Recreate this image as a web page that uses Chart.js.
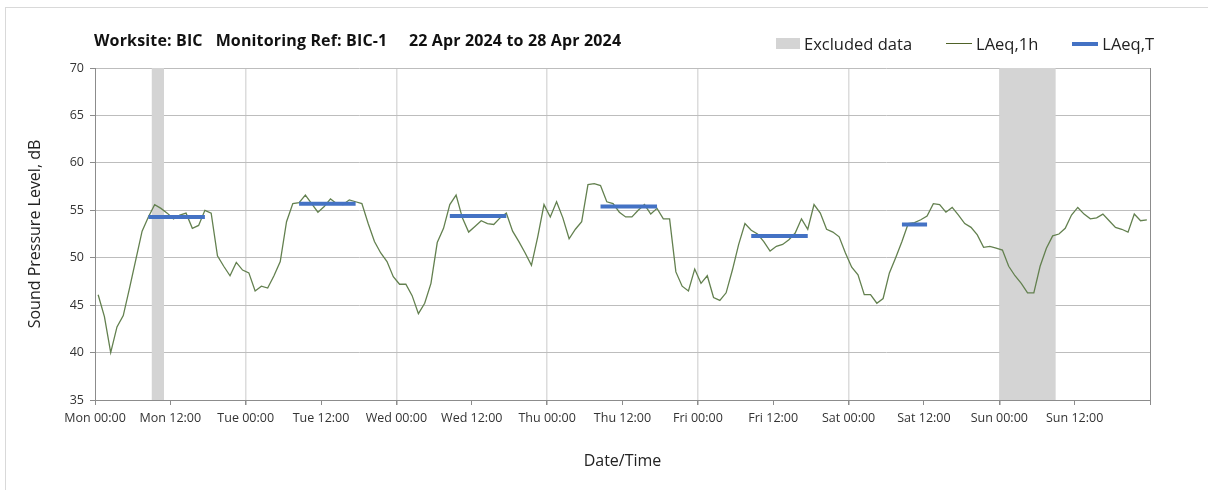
<!DOCTYPE html>
<html>
<head>
<meta charset="utf-8">
<script src="https://cdn.jsdelivr.net/npm/chart.js@4.4.1/dist/chart.umd.min.js"></script>
<style>
body { margin: 0; width: 1208px; height: 490px; overflow: hidden; background: #fff; font-family: 'Open Sans', sans-serif; }
#wrap { position: relative; width: 1208px; height: 490px; }
#frame { position: absolute; left: 5px; top: 7px; width: 1300px; height: 600px; border: 1px solid #d9d9d9; }
#title { position: absolute; left: 94px; top: 29px; font-weight: bold; font-size: 16px; letter-spacing: 0.15px; white-space: pre; color: #111; }
#legend { position: absolute; left: 776px; top: 32px; display: flex; align-items: center; font-size: 16.5px; color: #222; white-space: nowrap; }
#legend .item { display: flex; align-items: center; margin-right: 34px; }
#legend .item:last-child { margin-right: 0; }
#legend .sw { display: inline-block; width: 26px; margin-right: 4px; }
canvas { position: absolute; left: 0; top: 0; }
</style>
</head>
<body>
<div id="wrap">
  <div id="frame"></div>
  <canvas id="noiseChart" width="1208" height="490"></canvas>
  <div id="title">Worksite: BIC   Monitoring Ref: BIC-1     22 Apr 2024 to 28 Apr 2024</div>
  <div id="legend"></div>
</div>
<script>
//Hourly LAeq,1h values (dB), Mon 00:00 onwards
const laeq1h = [
  46.1, 43.8, 40.0, 42.7, 43.9, 46.8, 49.8, 52.8, 54.3, 55.6, 55.2, 54.7,
  54.1, 54.5, 54.7, 53.1, 53.4, 55.0, 54.7, 50.2, 49.1, 48.1, 49.5, 48.7,
  48.4, 46.5, 47.0, 46.8, 48.1, 49.6, 53.8, 55.7, 55.8, 56.6, 55.7, 54.8,
  55.4, 56.2, 55.7, 55.6, 56.1, 55.9, 55.7, 53.6, 51.7, 50.5, 49.6, 48.0,
  47.2, 47.2, 46.0, 44.1, 45.2, 47.3, 51.6, 53.1, 55.6, 56.6, 54.2, 52.7,
  53.3, 53.9, 53.6, 53.5, 54.2, 54.7, 52.8, 51.7, 50.5, 49.2, 52.2, 55.6,
  54.3, 55.9, 54.2, 52.0, 53.0, 53.8, 57.7, 57.8, 57.6, 55.9, 55.7, 54.8,
  54.3, 54.3, 55.0, 55.6, 54.6, 55.2, 54.1, 54.1, 48.5, 47.0, 46.5, 48.8,
  47.3, 48.1, 45.8, 45.5, 46.3, 48.7, 51.4, 53.6, 52.9, 52.5, 51.7, 50.7,
  51.2, 51.4, 51.9, 52.6, 54.1, 53.0, 55.6, 54.7, 53.0, 52.7, 52.2, 50.5,
  49.0, 48.2, 46.1, 46.1, 45.2, 45.7, 48.4, 50.0, 51.7, 53.6, 53.7, 54.0,
  54.4, 55.7, 55.6, 54.8, 55.3, 54.5, 53.6, 53.2, 52.4, 51.1, 51.2, 51.0,
  50.8, 49.1, 48.1, 47.3, 46.3, 46.3, 49.1, 51.0, 52.3, 52.5, 53.1, 54.5,
  55.3, 54.6, 54.1, 54.2, 54.6, 53.9, 53.2, 53.0, 52.7, 54.6, 53.9, 54.0
];

//LAeq,T daytime periods (hours from Mon 00:00)
const laeqTStart = [8.5, 32.5, 56.5, 80.5, 104.5, 128.5];
const laeqTEnd = [17.5, 41.5, 65.5, 89.5, 113.5, 132.5];
const laeqTValue = [54.3, 55.7, 54.4, 55.4, 52.3, 53.5];

//Excluded periods (hours from Mon 00:00)
const exclStart = [9, 144];
const exclEnd = [11, 153];

//Axis
const tickLabels = ['Mon 00:00', 'Mon 12:00', 'Tue 00:00', 'Tue 12:00', 'Wed 00:00', 'Wed 12:00',
  'Thu 00:00', 'Thu 12:00', 'Fri 00:00', 'Fri 12:00', 'Sat 00:00', 'Sat 12:00', 'Sun 00:00', 'Sun 12:00', ''];
const yMin = 35;
const yMax = 70;

//Build point lists
const hourlyPts = laeq1h.map((v, i) => ({ x: i + 0.5, y: v }));

const periodPts = [];
laeqTStart.forEach((s, i) => {
    periodPts.push({ x: s, y: laeqTValue[i] });
    periodPts.push({ x: laeqTEnd[i], y: laeqTValue[i] });
    periodPts.push({ x: laeqTEnd[i] + 0.5, y: null });
});

const exclPts = [];
exclStart.forEach((s, i) => {
    exclPts.push({ x: s, y: yMax });
    exclPts.push({ x: exclEnd[i], y: yMax });
    exclPts.push({ x: exclEnd[i] + 0.5, y: null });
});

const axisGrey = '#8c8c8c';
const fontFam = "'Open Sans', sans-serif";

const noiseChart = new Chart(document.getElementById('noiseChart'), {
    type: 'line',
    data: {
        datasets: [{
            label: 'Excluded data',
            data: exclPts,
            fill: 'start',
            backgroundColor: '#d4d4d4',
            borderWidth: 0,
            pointRadius: 0,
            order: 2
        }, {
            label: 'LAeq,1h',
            data: hourlyPts,
            borderColor: '#63804f',
            borderWidth: 1.3,
            pointRadius: 0,
            order: 1
        }, {
            label: 'LAeq,T',
            data: periodPts,
            borderColor: '#4472c4',
            borderWidth: 4,
            pointRadius: 0,
            order: 0
        }]
    },
    options: {
        responsive: false,
        animation: false,
        events: [],
        layout: {
            padding: { top: 68, right: 58, bottom: 10, left: 10 }
        },
        scales: {
            x: {
                type: 'linear',
                min: 0,
                max: 168,
                afterFit: scale => { scale.height = 80; },
                ticks: {
                    stepSize: 12,
                    maxRotation: 0,
                    autoSkip: false,
                    padding: 6,
                    color: '#333',
                    font: { family: fontFam, size: 12.5 },
                    callback: v => tickLabels[v / 12] || ''
                },
                grid: {
                    color: ctx => {
                        const v = ctx.tick ? ctx.tick.value : -1;
                        if (v === 0 || v === 168) return axisGrey;
                        return v % 24 === 0 ? '#dcdcdc' : 'rgba(0,0,0,0)';
                    },
                    lineWidth: ctx => (ctx.tick && ctx.tick.value % 24 === 0 && ctx.tick.value !== 0 && ctx.tick.value !== 168) ? 1.5 : 1,
                    tickColor: axisGrey,
                    tickLength: 5
                },
                border: { color: axisGrey },
                title: {
                    display: true,
                    text: 'Date/Time',
                    color: '#222',
                    font: { family: fontFam, size: 16 },
                    padding: { top: 0, bottom: 9 }
                }
            },
            y: {
                min: yMin,
                max: yMax,
                afterFit: scale => { scale.width = 85; },
                ticks: {
                    stepSize: 5,
                    padding: 6,
                    color: '#333',
                    font: { family: fontFam, size: 12.5 }
                },
                grid: {
                    color: '#bdbdbd',
                    tickColor: axisGrey,
                    tickLength: 5
                },
                border: { color: axisGrey },
                title: {
                    display: true,
                    text: 'Sound Pressure Level, dB',
                    color: '#222',
                    font: { family: fontFam, size: 16 },
                    padding: { top: 16, bottom: 0 }
                }
            }
        },
        plugins: {
            legend: { display: false },
            tooltip: { enabled: false }
        }
    }
});

//HTML legend
const legendBox = document.getElementById('legend');
noiseChart.data.datasets.forEach(ds => {
    const item = document.createElement('div');
    item.className = 'item';
    const sw = document.createElement('span');
    sw.className = 'sw';
    if (ds.fill) {
        sw.style.height = '11px';
        sw.style.background = ds.backgroundColor;
        sw.style.width = '24px';
    } else {
        sw.style.height = Math.max(1, Math.round(ds.borderWidth)) + 'px';
        sw.style.background = ds.label === 'LAeq,1h' ? '#4f6228' : ds.borderColor;
    }
    item.appendChild(sw);
    const txt = document.createElement('span');
    txt.textContent = ds.label;
    item.appendChild(txt);
    legendBox.appendChild(item);
});
</script>
</body>
</html>
